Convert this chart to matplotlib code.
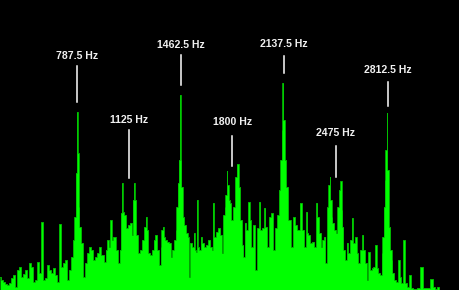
import numpy as np
import matplotlib.pyplot as plt

# spectrum: bin index -> magnitude (arbitrary units)
bins = [0, 2, 4, 6, 8, 10, 12, 14, 16, 18, 20, 22, 24, 26, 28, 30, 32, 34, 36, 38,
        40, 42, 44, 46, 48, 50, 52, 54, 56, 58, 60, 62, 64, 66, 68, 70, 72, 74, 75, 76,
        77, 78, 79, 80, 82, 84, 86, 88, 90, 92, 94, 96, 98, 100, 101, 103, 105, 106, 108, 109,
        111, 112, 114, 117, 119, 120, 121, 122, 123, 125, 127, 129, 131, 132, 133, 134, 135, 137, 139, 141,
        143, 145, 146, 147, 149, 151, 153, 154, 156, 158, 160, 161, 162, 163, 164, 166, 168, 170, 171, 173,
        175, 176, 177, 178, 179, 180, 181, 182, 183, 185, 187, 188, 189, 191, 193, 194, 195, 196, 197, 198,
        200, 201, 203, 205, 207, 209, 211, 212, 213, 215, 217, 219, 221, 222, 224, 225, 226, 227, 228, 229,
        230, 232, 234, 236, 237, 238, 239, 241, 243, 244, 245, 247, 249, 250, 252, 254, 256, 258, 260, 261,
        263, 265, 266, 268, 270, 272, 274, 276, 278, 280, 281, 282, 283, 284, 285, 287, 289, 292, 294, 296,
        298, 301, 303, 305, 307, 308, 309, 311, 313, 315, 317, 318, 320, 322, 323, 325, 326, 328, 329, 330,
        331, 332, 333, 335, 337, 338, 340, 341, 342, 343, 344, 346, 347, 349, 351, 352, 354, 356, 357, 359,
        361, 363, 364, 366, 367, 369, 371, 373, 374, 376, 377, 379, 381, 382, 383, 384, 385, 386, 387, 388,
        389, 391, 392, 393, 395, 397, 399, 400, 402, 404, 406, 408, 410, 412, 415, 418, 422, 424, 428, 432,
        434, 436, 438, 440]
mags = [13, 10, 8, 6, 5, 7, 12, 15, 3, 20, 23, 13, 16, 20, 12, 27, 23, 8, 10, 28,
        17, 68, 10, 12, 25, 20, 17, 22, 15, 8, 66, 23, 27, 30, 10, 20, 33, 50, 73, 117,
        178, 137, 83, 63, 47, 13, 27, 37, 43, 40, 30, 33, 37, 43, 35, 35, 28, 40, 50, 43,
        70, 50, 53, 40, 27, 40, 77, 107, 78, 75, 62, 65, 67, 55, 90, 107, 90, 55, 37, 40,
        50, 63, 73, 60, 37, 35, 40, 50, 55, 40, 25, 43, 60, 63, 53, 50, 48, 47, 33, 40,
        50, 60, 83, 107, 130, 195, 130, 103, 73, 65, 57, 53, 13, 47, 43, 57, 40, 38, 90, 43,
        40, 53, 47, 43, 45, 50, 43, 40, 87, 53, 58, 62, 55, 37, 75, 83, 95, 119, 105, 90,
        87, 70, 83, 113, 126, 126, 103, 70, 45, 33, 67, 60, 88, 70, 43, 65, 20, 62, 88, 60,
        62, 82, 63, 43, 73, 77, 40, 62, 75, 100, 130, 160, 207, 170, 130, 103, 70, 43, 73, 65,
        60, 87, 60, 43, 78, 57, 55, 47, 48, 43, 87, 73, 57, 43, 50, 53, 27, 83, 105, 113,
        90, 73, 67, 60, 57, 83, 100, 109, 80, 63, 40, 30, 47, 37, 50, 72, 47, 53, 37, 27,
        40, 55, 40, 27, 10, 38, 20, 22, 23, 45, 22, 17, 15, 37, 53, 83, 110, 140, 177, 120,
        63, 40, 30, 17, 10, 8, 30, 13, 7, 50, 7, 3, 15, 2, 1, 2, 23, 2, 2, 11,
        3, 1, 3, 0]

start_hz = 283.0
bin_hz = 6.525

peak_hz = [787.5, 1125, 1462.5, 1800, 2137.5, 2475, 2812.5]
peak_labels = ['787.5 Hz', '1125 Hz', '1462.5 Hz', '1800 Hz', '2137.5 Hz', '2475 Hz', '2812.5 Hz']
# label layout (same units as mags): text centre, line top, line bottom
text_y = [234, 170, 245, 168, 246, 157, 220]
line_top = [224, 160, 235, 154, 234, 144, 208]
line_bot = [188, 112, 205, 124, 217, 113, 184]

freqs = start_hz + bin_hz * np.array(bins)

fig = plt.figure(figsize=(4.6, 2.9), dpi=100, facecolor='black')
ax = fig.add_axes([0, 0, 1, 1])
ax.set_facecolor('black')

ax.fill_between(freqs, mags, 0, step='mid', color='#00ff00', linewidth=0)
ax.step(freqs, mags, where='mid', color='#00c000', linewidth=0.6)

for f, lab, ty, l0, l1 in zip(peak_hz, peak_labels, text_y, line_top, line_bot):
    ax.plot([f, f], [l0, l1], color='white', linewidth=1.1)
    ax.text(f, ty, lab, color='#f0f0f0', fontsize=7.6, fontweight='bold',
            family='Liberation Sans', ha='center', va='center')

ax.set_xlim(start_hz, start_hz + 460 * bin_hz)
ax.set_ylim(0, 290)
ax.axis('off')

fig.savefig('out.png', dpi=100, facecolor='black')
